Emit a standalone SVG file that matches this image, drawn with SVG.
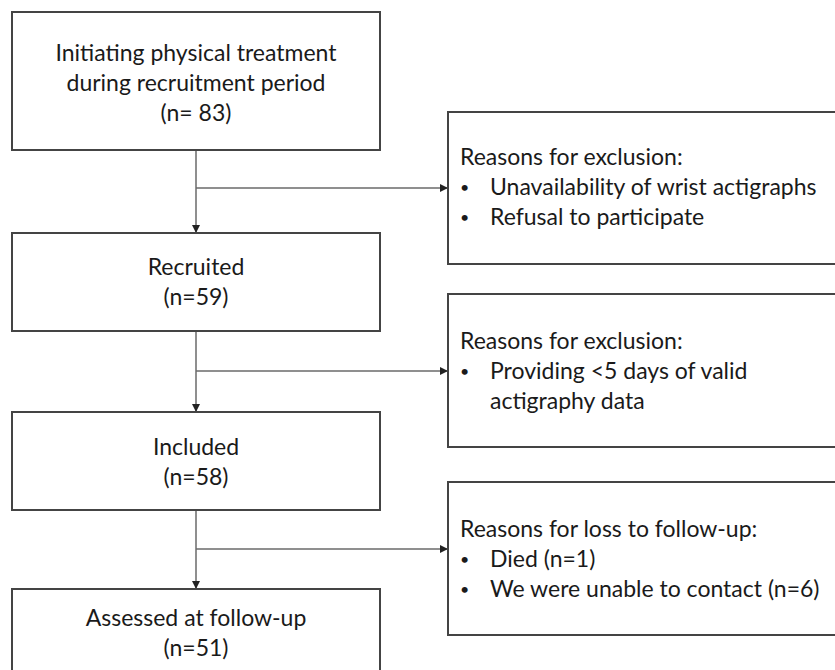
<svg xmlns="http://www.w3.org/2000/svg" width="835" height="670" viewBox="0 0 835 670">
<style>
.box{fill:#fff;stroke:#444;stroke-width:2}
.t{font-family:Lato,"Open Sans","Liberation Sans",sans-serif;font-size:23px;fill:#1a1a1a}
.b{font-size:16px}
.c{text-anchor:middle}
.ln{fill:none;stroke:#6a6a6a;stroke-width:1.5}
</style>
<defs>
<marker id="ah" markerWidth="8" markerHeight="8" refX="8" refY="4" orient="auto" markerUnits="userSpaceOnUse">
<path d="M0,0 L8,4 L0,8 Z" fill="#222"/>
</marker>
</defs>
<rect width="835" height="670" fill="#fff"/>
<g id="connectors">
<line class="ln" x1="196" y1="150" x2="196" y2="233" marker-end="url(#ah)"/>
<line class="ln" x1="196" y1="188" x2="448" y2="188" marker-end="url(#ah)"/>
<line class="ln" x1="196" y1="331" x2="196" y2="412" marker-end="url(#ah)"/>
<line class="ln" x1="196" y1="371" x2="448" y2="371" marker-end="url(#ah)"/>
<line class="ln" x1="196" y1="510" x2="196" y2="589" marker-end="url(#ah)"/>
<line class="ln" x1="196" y1="549" x2="448" y2="549" marker-end="url(#ah)"/>
</g>
<g id="n-initiating">
<rect class="box" x="12" y="12" width="368" height="138"/>
<text class="t c" x="196" y="61">Initiating physical treatment</text>
<text class="t c" x="196" y="91">during recruitment period</text>
<text class="t c" x="196" y="121">(n= 83)</text>
</g>
<g id="n-recruited">
<rect class="box" x="12" y="233" width="368" height="98"/>
<text class="t c" x="196" y="275">Recruited</text>
<text class="t c" x="196" y="305">(n=59)</text>
</g>
<g id="n-included">
<rect class="box" x="12" y="412" width="368" height="98"/>
<text class="t c" x="196" y="455">Included</text>
<text class="t c" x="196" y="485">(n=58)</text>
</g>
<g id="n-assessed">
<rect class="box" x="12" y="589" width="368" height="100"/>
<text class="t c" x="196" y="626">Assessed at follow-up</text>
<text class="t c" x="196" y="656">(n=51)</text>
</g>
<g id="n-excl1">
<rect class="box" x="448" y="112" width="400" height="152"/>
<text class="t" x="460" y="165">Reasons for exclusion:</text>
<text class="t b" x="460" y="193">•</text>
<text class="t" x="490" y="195">Unavailability of wrist actigraphs</text>
<text class="t b" x="460" y="223">•</text>
<text class="t" x="490" y="225">Refusal to participate</text>
</g>
<g id="n-excl2">
<rect class="box" x="448" y="294" width="400" height="153"/>
<text class="t" x="460" y="349">Reasons for exclusion:</text>
<text class="t b" x="460" y="377">•</text>
<text class="t" x="490" y="379">Providing &lt;5 days of valid</text>
<text class="t" x="490" y="409">actigraphy data</text>
</g>
<g id="n-loss">
<rect class="box" x="448" y="482" width="400" height="153"/>
<text class="t" x="460" y="537">Reasons for loss to follow-up:</text>
<text class="t b" x="460" y="565">•</text>
<text class="t" x="490" y="567">Died (n=1)</text>
<text class="t b" x="460" y="595">•</text>
<text class="t" x="490" y="597">We were unable to contact (n=6)</text>
</g>
</svg>
